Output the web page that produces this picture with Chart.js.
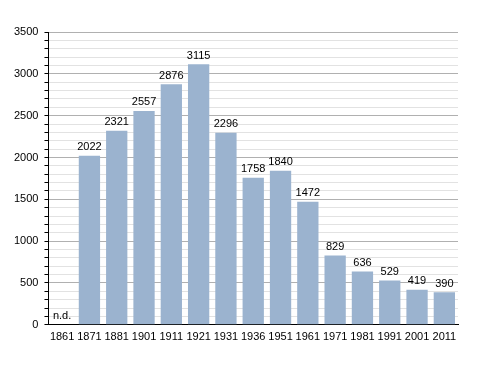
<!DOCTYPE html>
<html>
<head>
<meta charset="utf-8">
<script src="https://cdn.jsdelivr.net/npm/chart.js@4/dist/chart.umd.min.js"></script>
<style>
  html, body { margin: 0; padding: 0; background: #fff; }
  #wrap { width: 488px; height: 373px; }
</style>
</head>
<body>
<div id="wrap"><canvas id="popChart" width="488" height="373"></canvas></div>
<script>
const years = ["1861", "1871", "1881", "1901", "1911", "1921", "1931", "1936", "1951", "1961", "1971", "1981", "1991", "2001", "2011"];
const population = [null, 2022, 2321, 2557, 2876, 3115, 2296, 1758, 1840, 1472, 829, 636, 529, 419, 390];
const yMax = 3500;

// labels above bars, "n.d." where there is no data
const barLabels = {
  id: "barLabels",
  afterDatasetsDraw(chart) {
    const { ctx } = chart;
    const meta = chart.getDatasetMeta(0);
    const y0 = chart.scales.y.getPixelForValue(0);
    ctx.save();
    ctx.font = "11px 'Liberation Sans', Arial, sans-serif";
    ctx.fillStyle = "#000";
    ctx.textAlign = "center";
    ctx.textBaseline = "bottom";
    meta.data.forEach((bar, i) => {
      const v = population[i];
      if (v == null) {
        ctx.fillText("n.d.", bar.x, y0 - 3);
      } else {
        ctx.fillText(String(v), bar.x, bar.y - 3);
      }
    });
    ctx.restore();
  },
};

new Chart(document.getElementById("popChart"), {
  type: "bar",
  data: {
    labels: years,
    datasets: [
      {
        data: population,
        backgroundColor: "#9bb3cf",
        borderWidth: 0,
        categoryPercentage: 0.78,
        barPercentage: 1,
      },
    ],
  },
  options: {
    responsive: false,
    animation: false,
    layout: { padding: { top: 32, right: 30, left: 8, bottom: 23 } },
    plugins: {
      legend: { display: false },
      tooltip: { enabled: false },
    },
    scales: {
      x: {
        grid: { display: false, drawTicks: false },
        border: { color: "#000", width: 1 },
        ticks: {
          color: "#000",
          padding: 6,
          maxRotation: 0,
          autoSkip: false,
          font: { family: "'Liberation Sans', Arial, sans-serif", size: 11 },
        },
      },
      y: {
        min: 0,
        max: yMax,
        border: { color: "#000", width: 1 },
        grid: {
          color: (c) => (c.tick && c.tick.value % 500 === 0 ? "#b0b0b0" : "#e2e2e2"),
          tickColor: "#000",
          tickLength: 4,
        },
        ticks: {
          stepSize: 100,
          autoSkip: false,
          color: "#000",
          padding: 6,
          font: { family: "'Liberation Sans', Arial, sans-serif", size: 11 },
          callback: (v) => (v % 500 === 0 ? v : ""),
        },
      },
    },
  },
  plugins: [barLabels],
});
</script>
</body>
</html>
